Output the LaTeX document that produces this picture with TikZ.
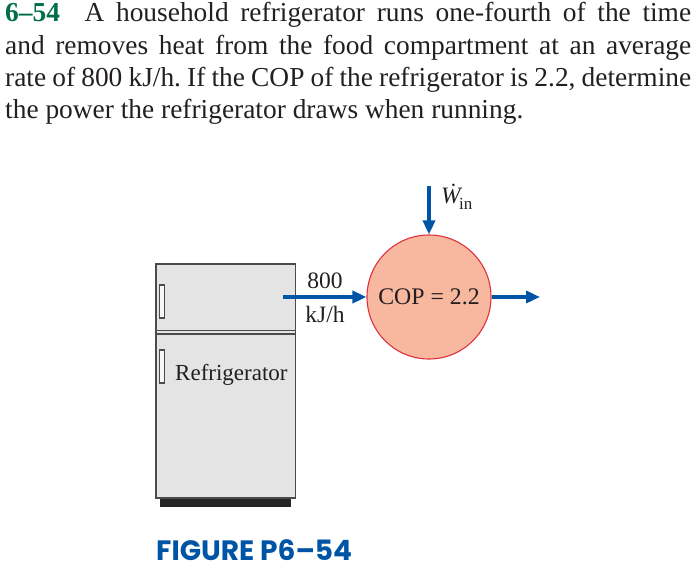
\documentclass[tikz,border=0pt]{standalone}
\usepackage{fontspec}
\setmainfont{Liberation Serif}
\newfontfamily\figfont{Poppins}
\usetikzlibrary{arrows.meta}
\definecolor{flowblue}{RGB}{0,84,166}
\definecolor{headgreen}{RGB}{0,110,70}
\definecolor{bodygrey}{RGB}{228,228,228}
\definecolor{edgegrey}{RGB}{75,75,75}
\definecolor{coppink}{RGB}{248,184,160}
\definecolor{copred}{RGB}{222,50,60}
\definecolor{inkk}{RGB}{35,31,32}
\frenchspacing
\tikzset{
  flow/.style={draw=flowblue,line width=4pt,-{Triangle[length=14pt,width=12pt]}},
  prob/.style={anchor=base west,inner sep=0pt,font=\fontsize{27.4pt}{32pt}\selectfont,text=inkk},
  lab/.style={inner sep=0pt,font=\fontsize{23.5pt}{28pt}\selectfont,text=inkk},
  panel/.style={draw=edgegrey,fill=bodygrey,line width=1.4pt},
  handle/.style={draw=edgegrey,fill=white!70!bodygrey,line width=1.2pt}
}
\begin{document}
\begin{tikzpicture}[x=1pt,y=-1pt]
\useasboundingbox (0,0) rectangle (694,570);
% problem statement
\node[prob] (l1) at (5,21.5) {\makebox[686pt][s]{\textbf{\textcolor{headgreen}{6--54}}\hspace{13pt} A household refrigerator runs one-fourth of the time}};
\node[prob] (l2) at (5,54) {\makebox[686pt][s]{and removes heat from the food compartment at an average}};
\node[prob] (l3) at (5,86) {\makebox[686pt][s]{rate of 800 kJ/h. If the COP of the refrigerator is 2.2, determine}};
\node[prob] (l4) at (5,118) {the power the refrigerator draws when running.};
% refrigerator
\draw[panel] (156,264) rectangle (295.5,498);
\draw[edgegrey,line width=1.3pt] (156,330.5) -- (295.5,330.5);
\draw[edgegrey,line width=1.3pt] (156,334) -- (295.5,334);
\fill[black!85] (160,499) rectangle (291,507);
\draw[handle] (159.5,285) rectangle (164.5,318);
\draw[handle] (159.5,350) rectangle (164.5,383);
\node[lab,anchor=base west,font=\fontsize{23pt}{28pt}\selectfont] (fr) at (175,380) {Refrigerator};
% COP circle
\node[circle,draw=copred,fill=coppink,line width=1.1pt,minimum size=124pt,inner sep=0pt,font=\fontsize{23.8pt}{28pt}\selectfont,text=inkk] (cop) at (429,297) {COP = 2.2};
% flows
\coordinate (qfrom) at (283,297);
\coordinate (wfrom) at (429,186);
\coordinate (qto) at (540,297);
\draw[flow] (qfrom) -- (cop.west);
\draw[flow] (wfrom) -- (cop.north);
\draw[flow] (cop.east) -- (qto);
\node[lab,anchor=base] (q1) at (325,288) {800};
\node[lab,anchor=base] (q2) at (325,322) {kJ/h};
\node[lab,anchor=base west] (win) at (441,203) {\textit{Ẇ}\kern-3.5pt\raisebox{-6pt}{\fontsize{17pt}{20pt}\selectfont in}};
% caption
\node[anchor=base west,inner sep=0pt,text=flowblue] (cap) at (156,560) {\figfont\bfseries\fontsize{28pt}{30pt}\selectfont FIGURE P6–54};
\end{tikzpicture}
\end{document}
